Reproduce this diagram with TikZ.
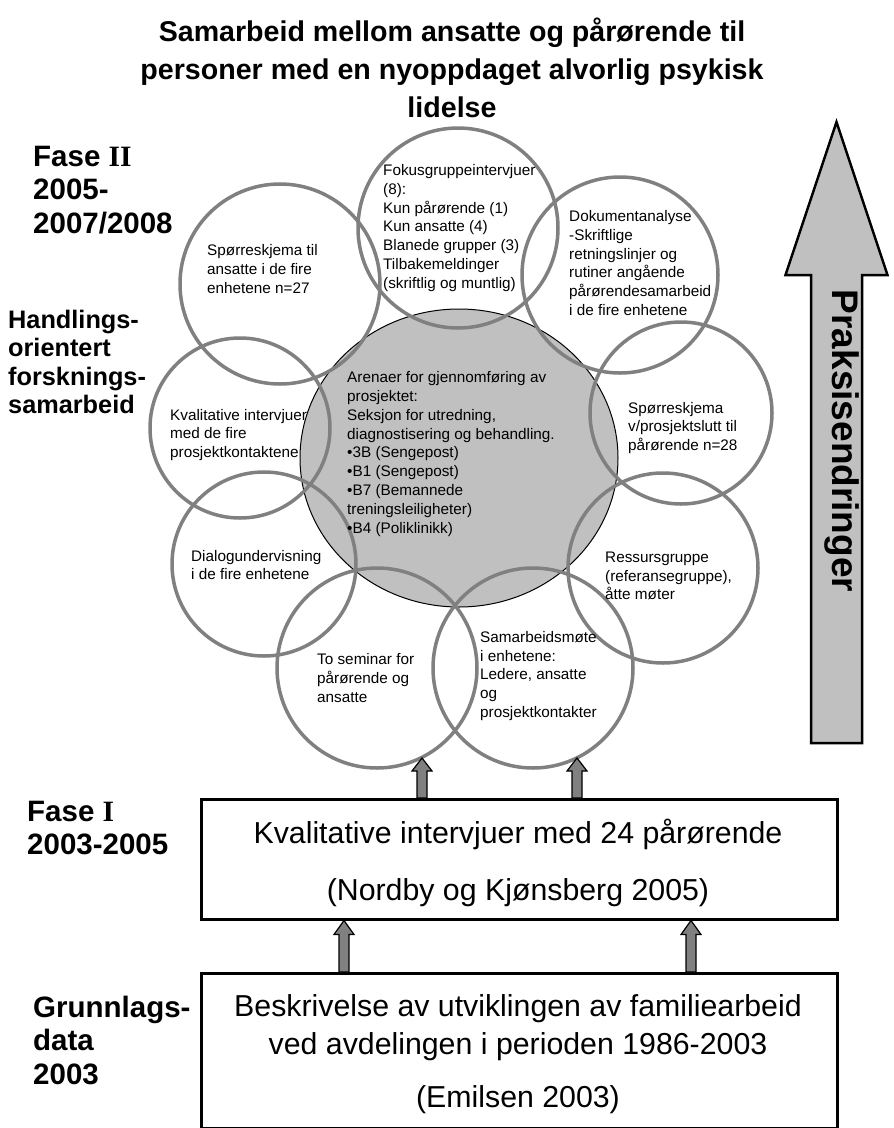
\documentclass[tikz,border=0pt]{standalone}
\usepackage{fontspec}
\setmainfont{Liberation Sans}
\newfontfamily\romanfont{Liberation Serif}
\usetikzlibrary{calc,shapes.geometric}
\definecolor{ringgray}{RGB}{128,128,128}
\definecolor{fillgray}{RGB}{192,192,192}
\definecolor{arrgray}{RGB}{128,128,128}
\newcommand\drawblockarrow[6]{%
  \filldraw[#6] let \p1=(#1), \p2=(#2) in
    (\x1-#3,\y2) -- (\x1-#3,\y1-#5) -- (\x1-#4,\y1-#5) -- (\x1,\y1)
    -- (\x1+#4,\y1-#5) -- (\x1+#3,\y1-#5) -- (\x1+#3,\y2) -- cycle;}
\begin{document}
\begin{tikzpicture}[x=1pt,y=-1pt,
  ring/.style={circle,draw=ringgray,line width=3.5pt,inner sep=0pt,minimum size=#1},
  hubstyle/.style={ellipse,fill=fillgray,draw=black,line width=1pt,inner sep=0pt},
  ctext/.style={align=left,anchor=west,inner sep=0pt,font=\fontsize{15.3}{18.8}\selectfont},
  bigtitle/.style={align=center,inner sep=0pt,font=\fontsize{28.6}{38}\selectfont\bfseries},
  faselbl/.style={align=left,anchor=west,inner sep=0pt,font=\fontsize{29.5}{33.5}\selectfont\bfseries},
  handlbl/.style={align=left,anchor=west,inner sep=0pt,font=\fontsize{25.3}{28.5}\selectfont\bfseries},
  box/.style={draw=black,line width=2.5pt,fill=white,inner sep=0pt,anchor=north west},
  boxtext/.style={align=center,inner sep=0pt,font=\fontsize{30.3}{38}\selectfont},
  smallarr/.style={fill=arrgray,draw=black,line width=1.2pt,line join=miter},
  bigarr/.style={fill=fillgray,draw=black,line width=2.5pt,line join=miter}]
\useasboundingbox (0,0) rectangle (894,1128);

% title
\node[bigtitle] (title) at (452,68) {Samarbeid mellom ansatte og pårørende til\\personer med en nyoppdaget alvorlig psykisk\\lidelse};

% left labels
\node[faselbl] (fase2) at (33,190) {Fase {\romanfont II}\\2005-\\2007/2008};
\node[handlbl] (handl) at (8,362) {Handlings-\\orientert\\forsknings-\\samarbeid};
\node[faselbl] (fase1) at (27,828) {Fase {\romanfont I}\\2003-2005};
\node[faselbl] (grunn) at (33,1040) {Grunnlags-\\data\\2003};

% central hub
\node[hubstyle,minimum width=318pt,minimum height=298pt] (hub) at (459,458) {};

% rings
\node[ring=200pt] (c1) at (458,228) {};
\node[ring=196pt] (c2) at (620,275) {};
\node[ring=182pt] (c3) at (681,413) {};
\node[ring=190pt] (c4) at (663,568) {};
\node[ring=200pt] (c5) at (533,668) {};
\node[ring=200pt] (c6) at (377,668) {};
\node[ring=184pt] (c7) at (264,564) {};
\node[ring=180pt] (c8) at (240,428) {};
\node[ring=200pt] (c9) at (280,284) {};

% texts
\node[ctext] (t9) at (207,269) {Spørreskjema til\\ansatte i de fire\\enhetene n=27};
\node[ctext] (t1) at (383,228) {Fokusgruppeintervjuer\\(8):\\Kun pårørende (1)\\Kun ansatte (4)\\Blanede grupper (3)\\Tilbakemeldinger\\(skriftlig og muntlig)};
\node[ctext] (t2) at (569,263) {Dokumentanalyse\\-Skriftlige\\retningslinjer og\\rutiner angående\\pårørendesamarbeid\\i de fire enhetene};
\node[ctext] (t3) at (628,428) {Spørreskjema\\v/prosjektslutt til\\pårørende n=28};
\node[ctext] (t4) at (605,576) {Ressursgruppe\\(referansegruppe),\\åtte møter};
\node[ctext] (t5) at (480,676) {Samarbeidsmøte\\i enhetene:\\Ledere, ansatte\\og\\prosjektkontakter};
\node[ctext] (t6) at (317,678) {To seminar for\\pårørende og\\ansatte};
\node[ctext] (t7) at (191,565) {Dialogundervisning\\i de fire enhetene};
\node[ctext] (t8) at (170,435) {Kvalitative intervjuer\\med de fire\\prosjektkontaktene};
\node[ctext] (thub) at (347,454) {Arenaer for gjennomføring av\\prosjektet:\\Seksjon for utredning,\\diagnostisering og behandling.\\•3B (Sengepost)\\•B1 (Sengepost)\\•B7 (Bemannede\\treningsleiligheter)\\•B4 (Poliklinikk)};

% boxes
\node[box,minimum width=636pt,minimum height=120pt] (box1) at (200,798) {};
\node[box,minimum width=636pt,minimum height=155pt] (box2) at (200,972) {};
\node[boxtext] (b1text) at (518,863) {Kvalitative intervjuer med 24 pårørende\\[19pt](Nordby og Kjønsberg 2005)};
\node[boxtext] (b2text) at (518,1054) {Beskrivelse av utviklingen av familiearbeid\\ved avdelingen i perioden 1986-2003\\[15pt](Emilsen 2003)};

% small block arrows
\coordinate (u1) at (422,758);
\coordinate (u2) at (577,758);
\coordinate (l1) at (344,0);
\coordinate (l2) at (691,0);
\drawblockarrow{u1}{u1 |- box1.north}{5pt}{10pt}{13pt}{smallarr}
\drawblockarrow{u2}{u2 |- box1.north}{5pt}{10pt}{13pt}{smallarr}
\drawblockarrow{l1 |- box1.south}{l1 |- box2.north}{5pt}{10pt}{14pt}{smallarr}
\drawblockarrow{l2 |- box1.south}{l2 |- box2.north}{5pt}{10pt}{14pt}{smallarr}

% big arrow
\coordinate (bigtip) at (836.5,122);
\coordinate (bigtail) at (836.5,743);
\drawblockarrow{bigtip}{bigtail}{25.5pt}{51pt}{153pt}{bigarr}
\node[rotate=-90,inner sep=0pt,font=\fontsize{37}{37}\selectfont\bfseries] (praksis) at (842,441) {Praksisendringer};
\end{tikzpicture}
\end{document}
